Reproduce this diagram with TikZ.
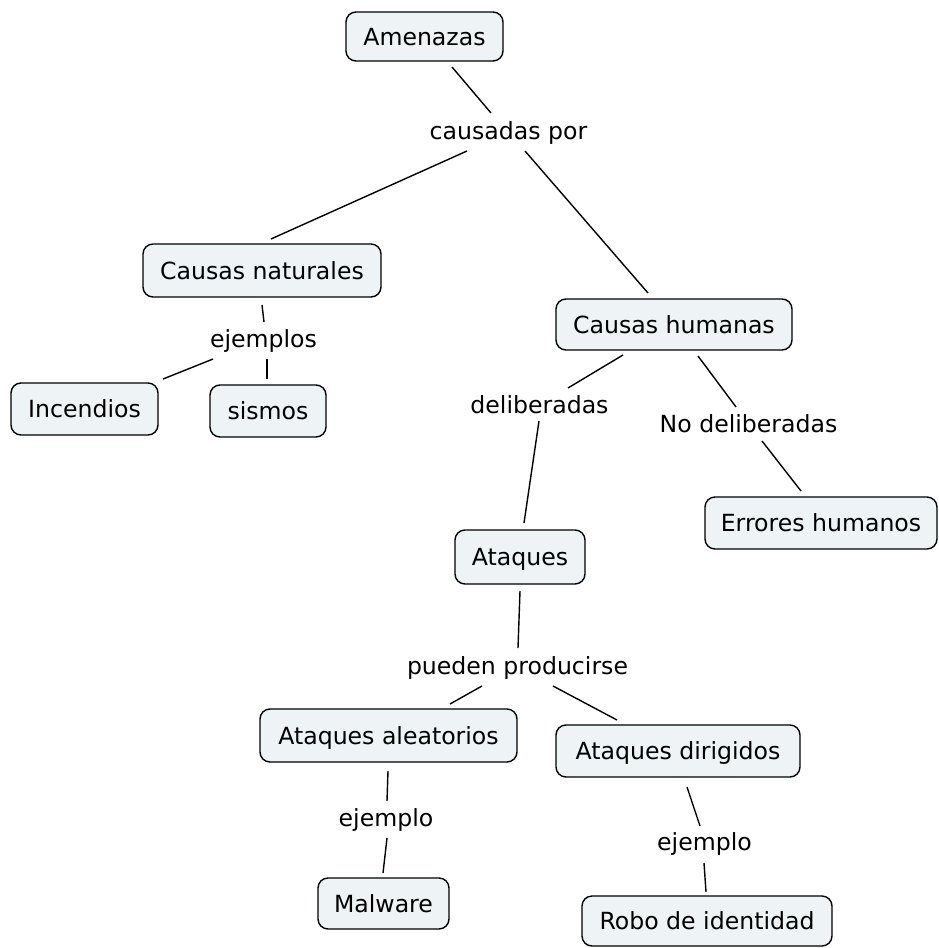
\documentclass[tikz,border=0pt]{standalone}
\usepackage{fontspec}
\setmainfont{DejaVu Sans}
\definecolor{boxfill}{RGB}{238,244,246}
\begin{document}
\begin{tikzpicture}[x=1pt,y=-1pt,
  every node/.style={font=\fontsize{23.6}{28}\selectfont, inner sep=0pt},
  concept/.style={draw=black, fill=boxfill, line width=1.4pt, rounded corners=10pt,
    text height=18pt, text depth=1pt},
  linkword/.style={anchor=base},
  conn/.style={line width=1.4pt, black}]
\useasboundingbox (0,0) rectangle (938,948);
% concepts
\node[concept, minimum width=157, minimum height=49] (am) at (424.5,36.5) {Amenazas};
\node[concept, minimum width=238, minimum height=53] (nat) at (262,270.5) {Causas naturales};
\node[concept, minimum width=236, minimum height=51] (hum) at (674,324.5) {Causas humanas};
\node[concept, minimum width=147, minimum height=52] (inc) at (84.5,409) {Incendios};
\node[concept, minimum width=116, minimum height=52] (sis) at (268,411) {sismos};
\node[concept, minimum width=232, minimum height=52] (err) at (821,523) {Errores humanos};
\node[concept, minimum width=130, minimum height=54] (ata) at (520,557) {Ataques};
\node[concept, minimum width=257, minimum height=53] (ale) at (388.5,735.5) {Ataques aleatorios};
\node[concept, minimum width=244, minimum height=52] (dir) at (678,751) {Ataques dirigidos};
\node[concept, minimum width=131, minimum height=51] (mal) at (383.5,903.5) {Malware};
\node[concept, minimum width=250, minimum height=50] (rob) at (707,921) {Robo de identidad};
% linking words
\node[linkword] (cp) at (508.5,139) {causadas por};
\node[linkword] (ejs) at (263.5,347) {ejemplos};
\node[linkword] (del) at (539.5,413) {deliberadas};
\node[linkword] (nod) at (748.5,432) {No deliberadas};
\node[linkword] (pp) at (517.5,674) {pueden producirse};
\node[linkword] (ej1) at (386,826) {ejemplo};
\node[linkword] (ej2) at (704.5,850) {ejemplo};
% connectors
\draw[conn] ([shift={(27.5,30.5)}]am.center) -- ([shift={(-17.5,-26)}]cp.base);
\draw[conn] ([shift={(-41.5,12)}]cp.base) -- ([shift={(9,-31.5)}]nat.center);
\draw[conn] ([shift={(16.5,12)}]cp.base) -- ([shift={(-26,-31.5)}]hum.center);
\draw[conn] ([shift={(0,34.5)}]nat.center) -- ([shift={(0.5,-25)}]ejs.base);
\draw[conn] ([shift={(-50.5,12)}]ejs.base) -- ([shift={(78.5,-30)}]inc.center);
\draw[conn] ([shift={(3.5,12)}]ejs.base) -- ([shift={(-1,-32)}]sis.center);
\draw[conn] ([shift={(-51,30.5)}]hum.center) -- ([shift={(28.5,-25)}]del.base);
\draw[conn] ([shift={(24,31.5)}]hum.center) -- ([shift={(-12.5,-25)}]nod.base);
\draw[conn] ([shift={(13.5,9)}]nod.base) -- ([shift={(-20,-32)}]err.center);
\draw[conn] ([shift={(-0.5,8)}]del.base) -- ([shift={(4,-34)}]ata.center);
\draw[conn] ([shift={(0,34)}]ata.center) -- ([shift={(0.5,-26)}]pp.base);
\draw[conn] ([shift={(-35.5,12)}]pp.base) -- ([shift={(61.5,-31.5)}]ale.center);
\draw[conn] ([shift={(35.5,12)}]pp.base) -- ([shift={(-61,-31)}]dir.center);
\draw[conn] ([shift={(-0.5,35.5)}]ale.center) -- ([shift={(1,-25)}]ej1.base);
\draw[conn] ([shift={(1,12)}]ej1.base) -- ([shift={(-0.5,-30.5)}]mal.center);
\draw[conn] ([shift={(9,36)}]dir.center) -- ([shift={(-4.5,-24)}]ej2.base);
\draw[conn] ([shift={(-0.5,13)}]ej2.base) -- ([shift={(-1,-29)}]rob.center);
\end{tikzpicture}
\end{document}
